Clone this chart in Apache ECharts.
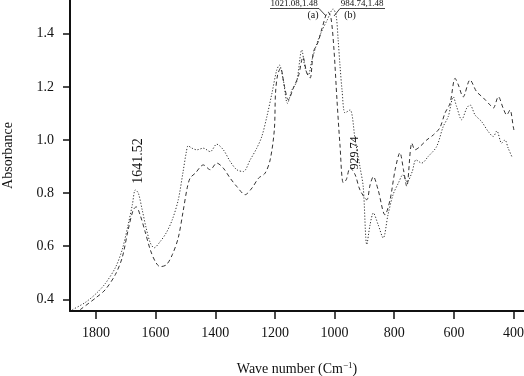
<!DOCTYPE html>
<html>
<head>
<meta charset="utf-8">
<script src="https://cdn.jsdelivr.net/npm/echarts@6/dist/echarts.min.js"></script>
<style>html,body{margin:0;padding:0;background:#fff}#c{width:524px;height:376px}</style>
</head>
<body>
<div id="c"></div>
<script>
// Tick values
const xTicks = [400, 600, 800, 1000, 1200, 1400, 1600, 1800];
const yTicks = [0.4, 0.6, 0.8, 1.0, 1.2, 1.4];

// Series (a): wave number, absorbance
const seriesA = [
[1853,0.361],[1800,0.406],[1769,0.436],[1735,0.493],[1712,0.557],[1692,0.662],[1675,0.737],[1665,0.748],
[1652,0.718],[1635,0.654],[1618,0.587],[1601,0.542],[1585,0.523],[1564,0.530],[1544,0.568],[1524,0.632],
[1508,0.730],[1494,0.820],[1484,0.857],[1467,0.875],[1440,0.906],[1417,0.888],[1395,0.913],[1373,0.894],
[1350,0.856],[1328,0.825],[1300,0.794],[1277,0.819],[1255,0.856],[1233,0.875],[1216,0.925],[1202,1.038],
[1198,1.177],[1191,1.245],[1181,1.271],[1169,1.207],[1155,1.151],[1138,1.196],[1121,1.241],[1106,1.312],
[1093,1.252],[1082,1.233],[1071,1.331],[1055,1.369],[1042,1.421],[1022,1.482],[1012,1.459],[1002,1.339],
[992,1.151],[982,0.982],[971,0.839],[961,0.850],[948,0.895],[931,0.869],[915,0.812],[892,0.775],
[881,0.831],[870,0.862],[854,0.812],[831,0.718],[814,0.775],[797,0.888],[781,0.952],[769,0.888],
[758,0.825],[741,0.988],[730,0.963],[714,0.975],[691,1.000],[669,1.019],[647,1.046],[630,1.101],
[613,1.138],[596,1.232],[585,1.207],[569,1.162],[546,1.226],[524,1.182],[501,1.158],[479,1.132],
[468,1.120],[451,1.163],[435,1.120],[423,1.094],[412,1.113],[401,1.050],[397,1.027]
];

// Series (b): wave number, absorbance
const seriesB = [
[1879,0.361],[1836,0.388],[1800,0.421],[1769,0.459],[1735,0.519],[1712,0.587],[1692,0.681],[1678,0.756],
[1668,0.812],[1658,0.800],[1645,0.737],[1632,0.670],[1618,0.613],[1605,0.594],[1585,0.617],[1564,0.651],
[1544,0.700],[1524,0.775],[1508,0.880],[1497,0.955],[1491,0.978],[1478,0.969],[1462,0.963],[1440,0.969],
[1417,0.956],[1395,0.984],[1373,0.963],[1350,0.919],[1328,0.888],[1306,0.881],[1283,0.925],[1261,0.969],
[1244,1.013],[1227,1.088],[1210,1.176],[1194,1.263],[1185,1.282],[1172,1.226],[1158,1.138],[1143,1.188],
[1127,1.220],[1110,1.339],[1099,1.271],[1088,1.245],[1076,1.300],[1060,1.361],[1043,1.410],[1025,1.451],
[1005,1.493],[995,1.470],[988,1.376],[982,1.282],[975,1.188],[965,1.102],[948,1.113],[931,1.000],
[915,0.899],[904,0.824],[892,0.606],[881,0.681],[870,0.725],[854,0.681],[837,0.631],[821,0.718],
[804,0.794],[786,0.838],[771,0.869],[757,0.842],[740,0.880],[727,0.925],[708,0.913],[686,0.938],
[658,0.975],[636,1.050],[619,1.088],[602,1.162],[591,1.126],[574,1.076],[557,1.120],[546,1.132],
[529,1.094],[507,1.069],[485,1.032],[468,1.013],[456,1.034],[440,0.988],[429,1.000],[418,0.969],[406,0.938]
];

const FONT = 'Liberation Serif';
const chart = echarts.init(document.getElementById('c'), null, {renderer: 'canvas'});
chart.setOption({
  backgroundColor: '#fff',
  animation: false,
  textStyle: {fontFamily: FONT},
  grid: {left: 70, right: 0, top: 0, bottom: 65, containLabel: false, outerBoundsMode: 'none'},
  xAxis: {
    type: 'value', inverse: true, min: 365, max: 1887,
    name: 'Wave number (Cm{sup|\u22121})',
    nameLocation: 'middle', nameGap: 50,
    nameTextStyle: {fontFamily: FONT, fontSize: 14, color: '#111',
      rich: {sup: {fontFamily: FONT, fontSize: 9, verticalAlign: 'top', padding: [0,0,8,0], color: '#111'}}},
    axisLine: {show: true, onZero: false, lineStyle: {color: '#111', width: 2}},
    axisTick: {show: true, length: 8, lineStyle: {color: '#111', width: 1.5}, customValues: xTicks},
    axisLabel: {customValues: xTicks, fontFamily: FONT, fontSize: 14, color: '#111', margin: 15,
      formatter: v => String(v)},
    splitLine: {show: false}
  },
  yAxis: {
    type: 'value', min: 0.356, max: 1.527,
    name: 'Absorbance', nameLocation: 'middle', nameGap: 55,
    nameTextStyle: {fontFamily: FONT, fontSize: 14, color: '#111'},
    axisLine: {show: true, onZero: false, lineStyle: {color: '#111', width: 2}},
    axisTick: {show: true, length: 7, lineStyle: {color: '#111', width: 1.5}, customValues: yTicks},
    axisLabel: {customValues: yTicks, fontFamily: FONT, fontSize: 14, color: '#111', margin: 16,
      formatter: v => v.toFixed(1)},
    splitLine: {show: false}
  },
  series: [
    {name: '(a)', type: 'line', data: seriesA, showSymbol: false, smooth: 0.3,
     lineStyle: {color: '#333', width: 1, type: [4, 3]}},
    {name: '(b)', type: 'line', data: seriesB, showSymbol: false, smooth: 0.3,
     lineStyle: {color: '#333', width: 1, type: [1.2, 1.8]}}
  ],
  graphic: [
    {type: 'text', x: 138, y: 161, rotation: Math.PI/2,
     style: {text: '1641.52', font: '14px "Liberation Serif"', fill: '#111', align: 'center', verticalAlign: 'middle'}},
    {type: 'text', x: 355, y: 153, rotation: Math.PI/2,
     style: {text: '929.74', font: '12px "Liberation Serif"', fill: '#111', align: 'center', verticalAlign: 'middle'}},
    {type: 'text', x: 294, y: 4,
     style: {text: '1021.08,1.48', font: '9px "Liberation Serif"', fill: '#111', align: 'center', verticalAlign: 'middle'}},
    {type: 'text', x: 362, y: 4,
     style: {text: '984.74,1.48', font: '9px "Liberation Serif"', fill: '#111', align: 'center', verticalAlign: 'middle'}},
    {type: 'text', x: 313, y: 15,
     style: {text: '(a)', font: '10px "Liberation Serif"', fill: '#111', align: 'center', verticalAlign: 'middle'}},
    {type: 'text', x: 350, y: 15,
     style: {text: '(b)', font: '10px "Liberation Serif"', fill: '#111', align: 'center', verticalAlign: 'middle'}},
    {type: 'polyline', shape: {points: [[270, 8.5], [319, 8.5], [326, 16]]}, style: {stroke: '#111', lineWidth: 0.8, fill: null}},
    {type: 'polyline', shape: {points: [[385, 8.5], [340, 8.5], [334, 16]]}, style: {stroke: '#111', lineWidth: 0.8, fill: null}}
  ]
});
</script>
</body>
</html>
